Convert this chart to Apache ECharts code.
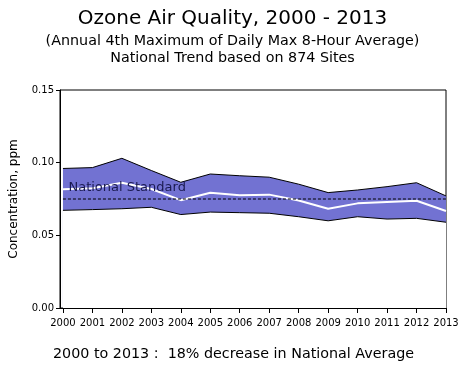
<!DOCTYPE html>
<html><head><meta charset="utf-8">
<script src="https://cdn.jsdelivr.net/npm/echarts@6/dist/echarts.min.js"></script>
<style>html,body{margin:0;padding:0;background:#fff}#c{width:465px;height:370px}</style>
</head><body><div id="c"></div>
<script>
var years = [2000,2001,2002,2003,2004,2005,2006,2007,2008,2009,2010,2011,2012,2013];
var upper = [0.096,0.0966,0.103,0.0946,0.0865,0.0922,0.091,0.090,0.0852,0.0794,0.0812,0.0835,0.0862,0.0771];
var lower = [0.0672,0.0677,0.0683,0.0693,0.0643,0.066,0.0656,0.0652,0.0628,0.0600,0.0628,0.0612,0.0617,0.059];
var mean  = [0.0817,0.0824,0.0862,0.0819,0.0742,0.0793,0.0776,0.0780,0.0740,0.0683,0.0720,0.0729,0.0738,0.0667];
var standard = 0.075;
var standardLabel = 'National Standard';

function pairs(arr){ return years.map(function(y,i){ return [y, arr[i]]; }); }

var FONT = 'DejaVu Sans';
var chart = echarts.init(document.getElementById('c'), null, {renderer:'canvas'});
chart.setOption({
  animation:false,
  backgroundColor:'#fff',
  title:[
    {text:'Ozone Air Quality, 2000 - 2013', left:'center', top:4,
     textStyle:{fontFamily:FONT, fontSize:20, fontWeight:'normal', color:'#000'}},
    {text:'(Annual 4th Maximum of Daily Max 8-Hour Average)\nNational Trend based on 874 Sites', left:'center', top:28,
     textStyle:{fontFamily:FONT, fontSize:14.3, fontWeight:'normal', color:'#000', lineHeight:17}},
    {text:'2000 to 2013 :  18% decrease in National Average', left:48, top:342,
     textStyle:{fontFamily:FONT, fontSize:14.3, fontWeight:'normal', color:'#000'}}
  ],
  grid:{left:57, right:19, top:90, bottom:62, show:true, borderColor:'#000', borderWidth:1, backgroundColor:'#fff'},
  xAxis:{type:'value', min:1999.9, max:2013,
    axisLine:{show:true, lineStyle:{color:'#000'}},
    axisTick:{show:true, length:5, lineStyle:{color:'#000'}, customValues:years},
    axisLabel:{color:'#000', fontFamily:FONT, fontSize:10, margin:10, customValues:years, formatter:function(v){return String(Math.round(v));}},
    splitLine:{show:false}},
  yAxis:{type:'value', min:0, max:0.15, interval:0.05, name:'Concentration, ppm', nameLocation:'middle', nameGap:40,
    nameTextStyle:{fontFamily:FONT, fontSize:12, color:'#000'},
    axisLine:{show:true, lineStyle:{color:'#000'}},
    axisTick:{show:true, length:4, lineStyle:{color:'#000'}},
    axisLabel:{color:'#000', fontFamily:FONT, fontSize:10, margin:6, formatter:function(v){return v.toFixed(2);}},
    splitLine:{show:false}},
  series:[
    {type:'line', data:pairs(upper), symbol:'none', lineStyle:{color:'#000', width:1},
     areaStyle:{color:'#7272D2', opacity:1}, z:1, silent:true},
    {type:'line', data:pairs(lower), symbol:'none', lineStyle:{color:'#000', width:1},
     areaStyle:{color:'#fff', opacity:1}, z:2, silent:true},
    {type:'line', data:pairs(mean), symbol:'none', lineStyle:{color:'#fff', width:2}, z:3, silent:true},
    {type:'line', data:years.map(function(y){return [y, standard];}), symbol:'none', z:4, silent:true,
     lineStyle:{color:'#000', type:[3,2], width:1},
     markPoint:{symbol:'circle', symbolSize:1, itemStyle:{color:'rgba(0,0,0,0)'}, silent:true,
       label:{show:true, position:'right', distance:5, offset:[0,-11], formatter:standardLabel, fontFamily:FONT, fontSize:13, color:'#1a1a50'},
       data:[{coord:[years[0], standard]}]}}
  ]
});
</script></body></html>
